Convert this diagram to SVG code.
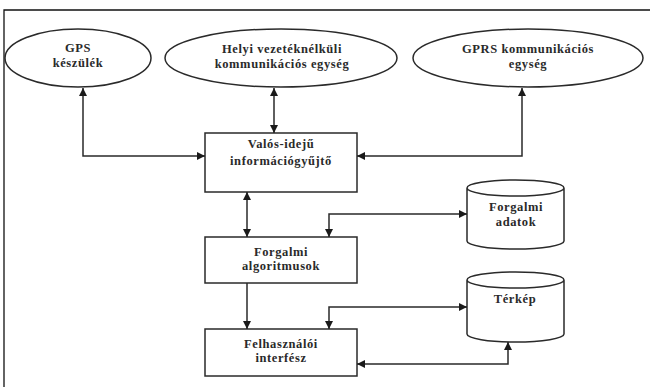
<svg xmlns="http://www.w3.org/2000/svg" width="650" height="387" viewBox="0 0 650 387">
<defs>
<marker id="ah" viewBox="0 0 10 10" refX="10" refY="5" markerWidth="8" markerHeight="8" markerUnits="userSpaceOnUse" orient="auto-start-reverse">
<path d="M0,0 L10,5 L0,10 z" fill="#1a1a1a"/>
</marker>
<style>
.sh{fill:#fff;stroke:#2a2a2a;stroke-width:1.5}
.t{font-family:"Liberation Serif","DejaVu Serif",serif;font-weight:bold;font-size:12.5px;fill:#2a2a2a;text-anchor:middle;letter-spacing:0.6px}
.c{fill:none;stroke:#2a2a2a;stroke-width:1.5}
</style>
</defs>
<rect width="650" height="387" fill="#fff"/>
<path d="M4,387 V10 H650" fill="none" stroke="#111" stroke-width="1.3"/>
<g id="gps"><ellipse class="sh" cx="78" cy="58" rx="73" ry="29"/><text class="t" x="78" y="52">GPS</text><text class="t" x="78" y="67">készülék</text></g>
<g id="helyi"><ellipse class="sh" cx="281" cy="58" rx="116" ry="29"/><text class="t" x="282" y="53">Helyi vezetéknélküli</text><text class="t" x="282" y="68">kommunikációs egység</text></g>
<g id="gprs"><ellipse class="sh" cx="528" cy="58" rx="115" ry="29"/><text class="t" x="528" y="53">GPRS kommunikációs</text><text class="t" x="528" y="68">egység</text></g>
<g id="valos"><rect class="sh" x="205" y="133" width="152" height="59"/><text class="t" x="281" y="148">Valós-idejű</text><text class="t" x="281" y="165">információgyűjtő</text></g>
<g id="algo"><rect class="sh" x="205" y="237" width="152" height="46"/><text class="t" x="281" y="256">Forgalmi</text><text class="t" x="281" y="270">algoritmusok</text></g>
<g id="felh"><rect class="sh" x="205" y="329" width="152" height="47"/><text class="t" x="281" y="348">Felhasználói</text><text class="t" x="281" y="362">interfész</text></g>
<g id="adatok"><path class="sh" d="M467,188 V241 A48.5,8 0 0 0 564,241 V188 A48.5,8 0 0 0 467,188 A48.5,8 0 0 0 564,188"/><text class="t" x="516" y="211">Forgalmi</text><text class="t" x="516" y="226">adatok</text></g>
<g id="terkep"><path class="sh" d="M467,280 V334 A48.5,8 0 0 0 564,334 V280 A48.5,8 0 0 0 467,280 A48.5,8 0 0 0 564,280"/><text class="t" x="515" y="303">Térkép</text></g>
<g id="connectors">
<path class="c" d="M83,88 V156 H205" marker-start="url(#ah)" marker-end="url(#ah)"/>
<path class="c" d="M274,88 V133" marker-start="url(#ah)" marker-end="url(#ah)"/>
<path class="c" d="M522,88 V156 H357" marker-start="url(#ah)" marker-end="url(#ah)"/>
<path class="c" d="M247,192 V237" marker-start="url(#ah)" marker-end="url(#ah)"/>
<path class="c" d="M329,237 V214 H467" marker-start="url(#ah)" marker-end="url(#ah)"/>
<path class="c" d="M247,283 V329" marker-end="url(#ah)"/>
<path class="c" d="M329,329 V307 H467" marker-start="url(#ah)" marker-end="url(#ah)"/>
<path class="c" d="M508,342 V364 H357" marker-start="url(#ah)" marker-end="url(#ah)"/>
</g>
</svg>
